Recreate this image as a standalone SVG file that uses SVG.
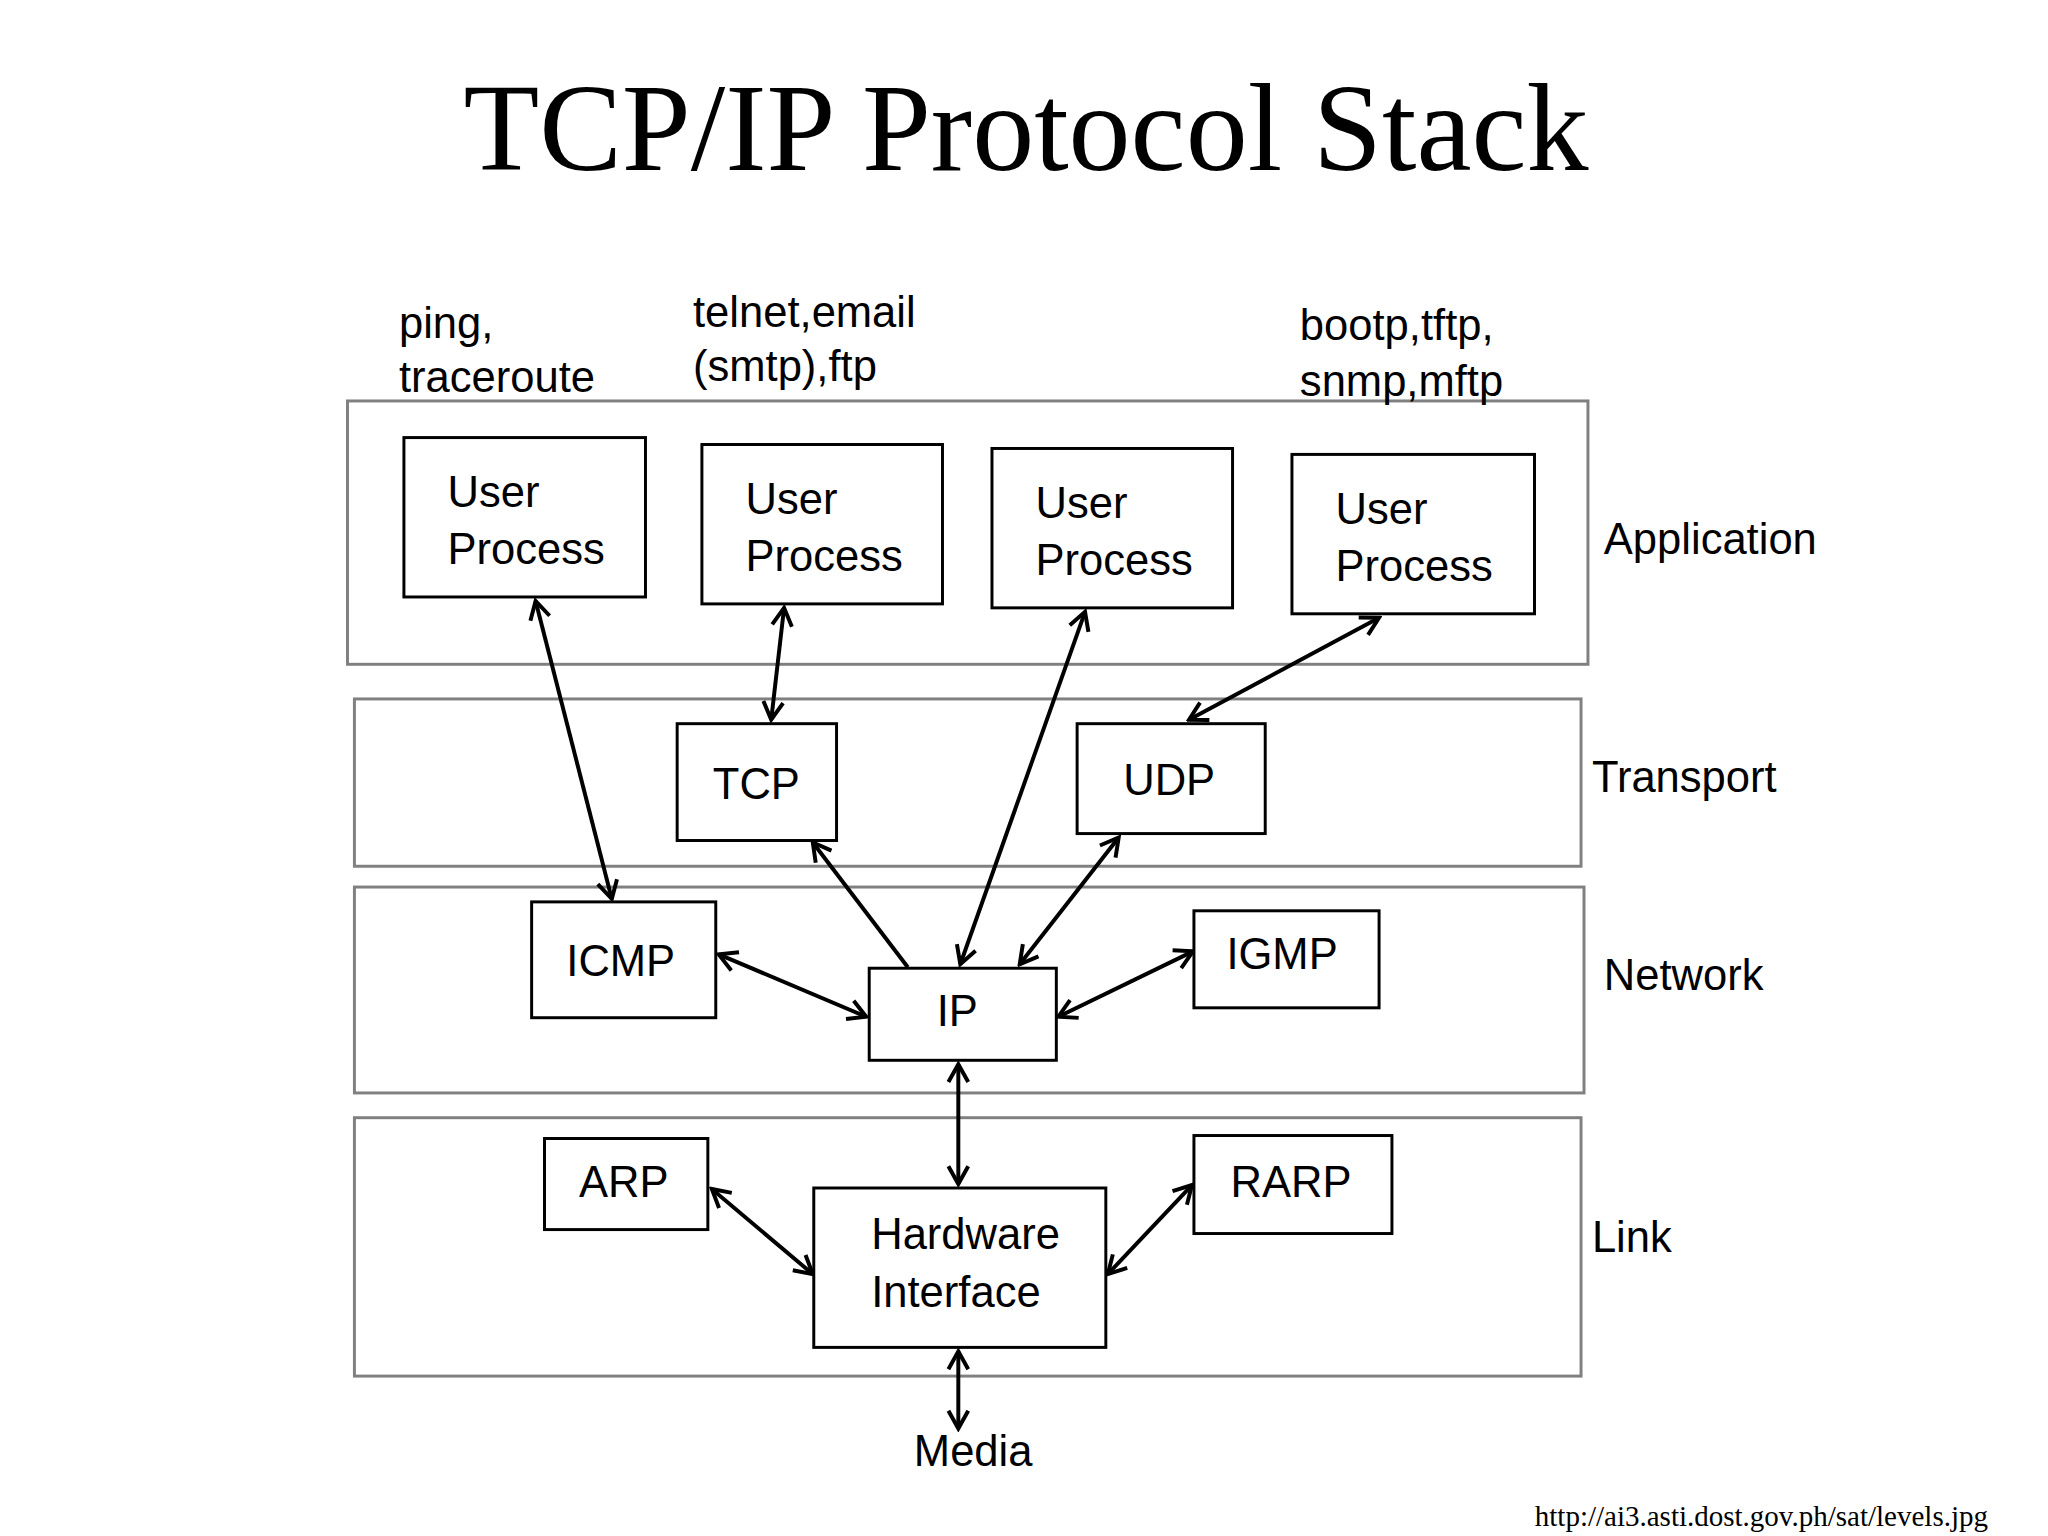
<svg xmlns="http://www.w3.org/2000/svg" width="2048" height="1536" viewBox="0 0 2048 1536">
<defs>
<marker id="ah" viewBox="0 0 24 24" refX="21" refY="12" markerWidth="24" markerHeight="24" markerUnits="userSpaceOnUse" orient="auto-start-reverse">
<path d="M3,2 L21,12 L3,22" fill="none" stroke="#000" stroke-width="4"/>
</marker>
<style>
.layer{fill:none;stroke:#808080;stroke-width:3}
.box{fill:#fff;stroke:#000;stroke-width:3}
.t{font-family:"Liberation Sans",Arial,sans-serif;font-size:44px;fill:#000}
.c{stroke:#000;stroke-width:4;fill:none;marker-start:url(#ah);marker-end:url(#ah)}
.s{stroke:#000;stroke-width:4;fill:none;marker-end:url(#ah)}
</style>
</defs>
<rect width="2048" height="1536" fill="#fff"/>
<text x="1026" y="170" text-anchor="middle" font-family="'Liberation Serif',serif" font-size="124">TCP/IP Protocol Stack</text>
<g transform="scale(0.99)">
<g id="layers">
<rect class="layer" x="351" y="405" width="1253" height="266"/>
<rect class="layer" x="358" y="706" width="1239" height="169"/>
<rect class="layer" x="358" y="896" width="1242" height="208"/>
<rect class="layer" x="358" y="1129" width="1239" height="261"/>
<text class="t" x="1620" y="560">Application</text>
<text class="t" x="1608" y="800">Transport</text>
<text class="t" x="1620" y="1000">Network</text>
<text class="t" x="1608" y="1265">Link</text>
</g>
<g class="t">
<text x="403" y="341">ping,</text>
<text x="403" y="396">traceroute</text>
<text x="700" y="330">telnet,email</text>
<text x="700" y="385">(smtp),ftp</text>
<text x="1313" y="343">bootp,tftp,</text>
<text x="1313" y="400">snmp,mftp</text>
</g>
<g id="connectors">
<line class="c" x1="541" y1="607" x2="618" y2="908"/>
<line class="c" x1="792" y1="614" x2="779" y2="727"/>
<line class="c" x1="1096" y1="618" x2="970" y2="974"/>
<line class="c" x1="1393" y1="624" x2="1201" y2="727"/>
<line class="s" x1="917" y1="977" x2="821" y2="851"/>
<line class="c" x1="1130" y1="846" x2="1030" y2="974"/>
<line class="c" x1="726" y1="964" x2="875" y2="1027"/>
<line class="c" x1="1069" y1="1027" x2="1205" y2="961"/>
<line class="c" x1="968" y1="1075" x2="968" y2="1196"/>
<line class="c" x1="719" y1="1201" x2="821" y2="1287"/>
<line class="c" x1="1119" y1="1287" x2="1204" y2="1197"/>
<line class="c" x1="968" y1="1365" x2="968" y2="1443"/>
</g>
<g id="up1"><rect class="box" x="408" y="442" width="244" height="161"/><text class="t" x="452" y="512">User</text><text class="t" x="452" y="570">Process</text></g>
<g id="up2"><rect class="box" x="709" y="449" width="243" height="161"/><text class="t" x="753" y="519">User</text><text class="t" x="753" y="577">Process</text></g>
<g id="up3"><rect class="box" x="1002" y="453" width="243" height="161"/><text class="t" x="1046" y="523">User</text><text class="t" x="1046" y="581">Process</text></g>
<g id="up4"><rect class="box" x="1305" y="459" width="245" height="161"/><text class="t" x="1349" y="529">User</text><text class="t" x="1349" y="587">Process</text></g>
<g id="tcp"><rect class="box" x="684" y="731" width="161" height="118"/><text class="t" x="764" y="807" text-anchor="middle">TCP</text></g>
<g id="udp"><rect class="box" x="1088" y="731" width="190" height="111"/><text class="t" x="1181" y="803" text-anchor="middle">UDP</text></g>
<g id="icmp"><rect class="box" x="537" y="911" width="186" height="117"/><text class="t" x="627" y="986" text-anchor="middle">ICMP</text></g>
<g id="ip"><rect class="box" x="878" y="978" width="189" height="93"/><text class="t" x="967" y="1036" text-anchor="middle">IP</text></g>
<g id="igmp"><rect class="box" x="1206" y="920" width="187" height="98"/><text class="t" x="1295" y="979" text-anchor="middle">IGMP</text></g>
<g id="arp"><rect class="box" x="550" y="1150" width="165" height="92"/><text class="t" x="630" y="1209" text-anchor="middle">ARP</text></g>
<g id="hw"><rect class="box" x="822" y="1200" width="295" height="161"/><text class="t" x="880" y="1262">Hardware</text><text class="t" x="880" y="1320">Interface</text></g>
<g id="rarp"><rect class="box" x="1206" y="1147" width="200" height="99"/><text class="t" x="1304" y="1209" text-anchor="middle">RARP</text></g>
<g id="media"><text class="t" x="983" y="1481" text-anchor="middle">Media</text></g>
</g>
<text x="1988" y="1526" text-anchor="end" font-family="'Liberation Serif',serif" font-size="29">http://ai3.asti.dost.gov.ph/sat/levels.jpg</text>
</svg>
